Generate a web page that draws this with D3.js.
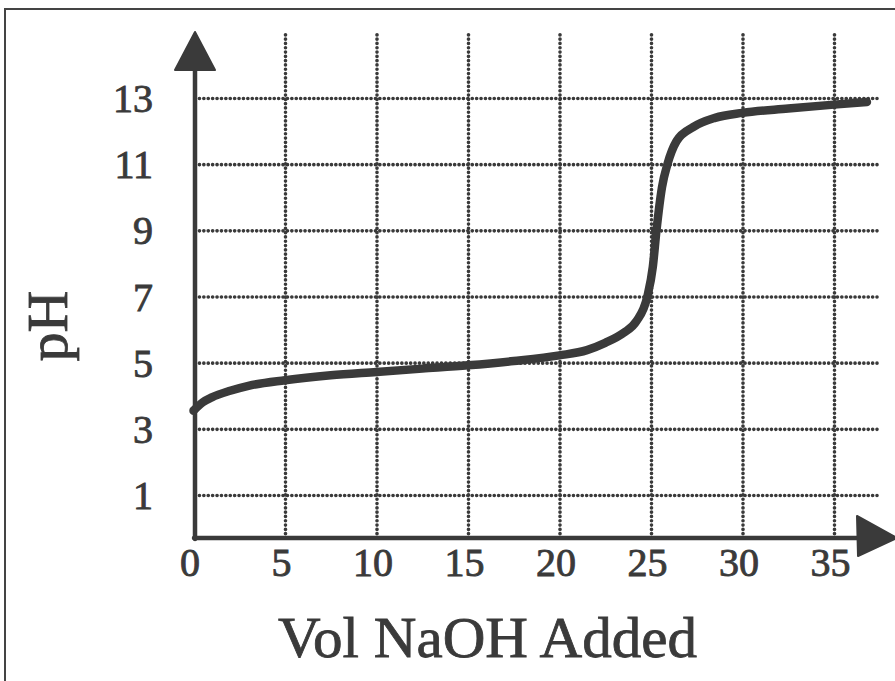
<!DOCTYPE html>
<html>
<head>
<meta charset="utf-8">
<script src="https://cdn.jsdelivr.net/npm/d3@7"></script>
<style>
  html, body { margin: 0; padding: 0; background: #fff; }
  svg { display: block; }
</style>
</head>
<body>
<svg id="chart" width="895" height="681"></svg>
<script>
// ---- data ----
const volume = [0, 0.5, 1, 2, 3, 5, 7.5, 10, 12.5, 15, 17.5, 20, 21.5, 22.5, 23.5, 24.2, 24.8, 25.1, 25.3, 25.6, 25.9, 26.4, 27.3, 28.5, 30, 32.5, 35, 36.8];
const pH = [3.55, 3.8, 3.95, 4.15, 4.3, 4.47, 4.62, 4.72, 4.82, 4.92, 5.05, 5.22, 5.38, 5.6, 5.9, 6.25, 7.0, 7.9, 9.0, 10.3, 11.0, 11.7, 12.12, 12.4, 12.55, 12.68, 12.8, 12.88];
const xTicks = [0, 5, 10, 15, 20, 25, 30, 35];
const yTicks = [1, 3, 5, 7, 9, 11, 13];
const xTitle = "Vol NaOH Added";
const yTitle = "pH";

const ink = "#3a3a3a";
const svg = d3.select("#chart");

const x = d3.scaleLinear().domain([0, 35]).range([193.5, 834]);
const y = d3.scaleLinear().domain([1, 13]).range([495, 98]);

const axisY = 538;          // pixel row of the x axis line
const axisX = x(0) + 1.5;   // pixel column of the y axis line
const gridTop = y(15);
const gridRight = x(37.35);

// frame
svg.append("rect")
  .attr("x", 5).attr("y", 9).attr("width", 900).attr("height", 690)
  .attr("fill", "none").attr("stroke", "#444").attr("stroke-width", 2);

// vertical grid lines (x axis ticks as grid)
const gx = svg.append("g")
  .attr("transform", `translate(0,${axisY})`)
  .call(d3.axisBottom(x).tickValues(xTicks.filter(d => d > 0)).tickSize(-(axisY - gridTop)).tickFormat(""));
gx.select(".domain").remove();
gx.selectAll(".tick line")
  .attr("stroke", ink).attr("stroke-width", 3.6)
  .attr("stroke-linecap", "round").attr("stroke-dasharray", "0.1 4.2");

// horizontal grid lines
const gy = svg.append("g")
  .attr("transform", `translate(${axisX},0)`)
  .call(d3.axisRight(y).tickValues(yTicks).tickSize(gridRight - axisX).tickFormat(""));
gy.select(".domain").remove();
gy.selectAll(".tick line")
  .attr("stroke", ink).attr("stroke-width", 3.6)
  .attr("stroke-linecap", "round").attr("stroke-dasharray", "0.1 4.3");

// axis lines
svg.append("line")
  .attr("x1", axisX).attr("x2", axisX).attr("y1", axisY + 1).attr("y2", 66)
  .attr("stroke", ink).attr("stroke-width", 4.5).attr("stroke-linecap", "round");
svg.append("line")
  .attr("x1", axisX - 1).attr("x2", 860).attr("y1", axisY).attr("y2", axisY)
  .attr("stroke", ink).attr("stroke-width", 4.5).attr("stroke-linecap", "round");

// arrow heads
svg.append("path")
  .attr("d", `M${axisX},32 L${axisX + 20},70 L${axisX - 20},70 Z`)
  .attr("fill", ink).attr("stroke", ink).attr("stroke-width", 2).attr("stroke-linejoin", "round");
svg.append("path")
  .attr("d", `M897,${axisY} L857,${axisY - 22} L858,${axisY + 18} Z`)
  .attr("fill", ink).attr("stroke", ink).attr("stroke-width", 2).attr("stroke-linejoin", "round");

// tick labels
const tickFont = "'Liberation Serif', 'DejaVu Serif', serif";
const xl = svg.append("g")
  .attr("transform", `translate(0,${axisY})`)
  .call(d3.axisBottom(x).tickValues(xTicks).tickSize(0).tickPadding(10).tickFormat(d3.format("d")));
xl.select(".domain").remove();
xl.selectAll(".tick text")
  .attr("font-family", tickFont).attr("font-size", 40).attr("fill", ink)
  .attr("stroke", ink).attr("stroke-width", 0.9)
  .attr("dx", -4).attr("dy", "0.7em");

const yl = svg.append("g")
  .attr("transform", `translate(153,0)`)
  .call(d3.axisLeft(y).tickValues(yTicks).tickSize(0).tickPadding(0).tickFormat(d3.format("d")));
yl.select(".domain").remove();
yl.selectAll(".tick text")
  .attr("font-family", tickFont).attr("font-size", 40).attr("fill", ink)
  .attr("stroke", ink).attr("stroke-width", 0.9)
  .attr("dy", "0.34em");

// titles
svg.append("text")
  .attr("x", 278).attr("y", 657)
  .attr("font-family", tickFont).attr("font-size", 58).attr("fill", ink)
  .attr("stroke", ink).attr("stroke-width", 0.8)
  .attr("textLength", 419).attr("lengthAdjust", "spacingAndGlyphs")
  .text(xTitle);

svg.append("text")
  .attr("transform", "translate(67,326) rotate(-90)")
  .attr("text-anchor", "middle")
  .attr("font-family", tickFont).attr("font-size", 58).attr("fill", ink)
  .attr("stroke", ink).attr("stroke-width", 0.8)
  .text(yTitle);

// curve
const pts = volume.map((v, i) => [v, pH[i]]);
svg.append("path")
  .datum(pts)
  .attr("fill", "none").attr("stroke", ink).attr("stroke-width", 8.5)
  .attr("stroke-linecap", "round").attr("stroke-linejoin", "round")
  .attr("d", d3.line().x(d => x(d[0])).y(d => y(d[1])).curve(d3.curveMonotoneX));
</script>
</body>
</html>
